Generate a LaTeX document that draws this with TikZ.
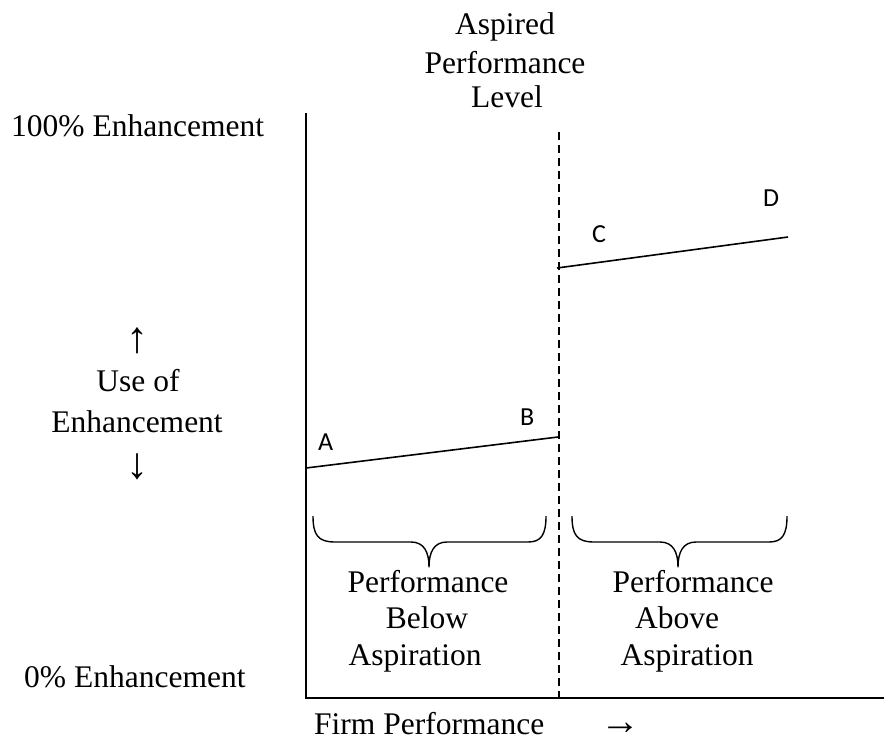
\documentclass[tikz,border=0pt]{standalone}
\usepackage{fontspec}
\setmainfont{Liberation Serif}
\newfontfamily\pointfont{Carlito}
\begin{document}
\begin{tikzpicture}[x=1pt,y=-1pt,
  txt/.style={inner sep=0pt,font=\fontsize{31.5}{36}\selectfont},
  arrowtxt/.style={inner sep=0pt,font=\fontsize{44}{46}\selectfont},
  xarrowtxt/.style={inner sep=0pt,font=\fontsize{40}{42}\selectfont},
  pt/.style={inner sep=0pt,font=\pointfont\fontsize{26}{30}\selectfont},
  axis/.style={line width=2pt},
  trend/.style={line width=1.6pt},
  aspline/.style={line width=1.8pt,dash pattern=on 8pt off 5pt},
  bracepath/.style={line width=1.4pt,line join=round}]
\useasboundingbox (0,0) rectangle (885,742);

% axes
\coordinate (origin) at (306,698);
\coordinate (ytop) at (306,113);
\coordinate (xend) at (884,698);
\draw[axis] (ytop) -- (origin) -- (xend);

% aspired performance level
\coordinate (asptop) at (559,132);
\coordinate (aspbot) at (559,698);
\draw[aspline] (asptop) -- (aspbot);

% trend segments
\coordinate (a) at (306,468);
\coordinate (b) at (558,437);
\coordinate (c) at (557,268);
\coordinate (d) at (788,237);
\draw[trend] (a) -- (b);
\draw[trend] (c) -- (d);

% point labels
\node[pt,anchor=base west] (lA) at (318,450) {A};
\node[pt,anchor=base west] (lB) at (520,425) {B};
\node[pt,anchor=base west] (lC) at (592,242) {C};
\node[pt,anchor=base west] (lD) at (763,206) {D};

% top heading
\node[txt,anchor=base] (asp1) at (505,34) {Aspired};
\node[txt,anchor=base] (asp2) at (505,73) {Performance};
\node[txt,anchor=base] (asp3) at (507,107) {Level};

% y-axis labels
\node[txt,anchor=base west] (ymax) at (11,136) {100\% Enhancement};
\node[txt,anchor=base west] (ymin) at (24,687) {0\% Enhancement};
\node[arrowtxt,anchor=center] (yup) at (137,341) {↑};
\node[txt,anchor=base] (yl1) at (138,391) {Use of};
\node[txt,anchor=base] (yl2) at (137,432) {Enhancement};
\node[arrowtxt,anchor=center] (ydown) at (137,467) {↓};

% x-axis label
\node[txt,anchor=base west] (xl) at (314,734) {Firm Performance};
\node[xarrowtxt,anchor=base] (xarrow) at (620,734) {→};

% braces
\draw[bracepath] (313,516) .. controls (313,535) and (318,542) .. (335,542)
  -- (411,542) .. controls (424,542) and (429,552) .. (429,567)
  .. controls (429,552) and (434,542) .. (447,542)
  -- (528,542) .. controls (541,542) and (546,535) .. (546,516);
\draw[bracepath] (572,516) .. controls (572,535) and (577,542) .. (594,542)
  -- (660,542) .. controls (673,542) and (678,552) .. (678,567)
  .. controls (678,552) and (683,542) .. (696,542)
  -- (769,542) .. controls (782,542) and (787,535) .. (787,516);

% region captions
\node[txt,anchor=base] (b1) at (428,592) {Performance};
\node[txt,anchor=base] (b2) at (427,628) {Below};
\node[txt,anchor=base] (b3) at (415,665) {Aspiration};
\node[txt,anchor=base] (a1) at (693,592) {Performance};
\node[txt,anchor=base] (a2) at (677,628) {Above};
\node[txt,anchor=base] (a3) at (687,665) {Aspiration};
\end{tikzpicture}
\end{document}
